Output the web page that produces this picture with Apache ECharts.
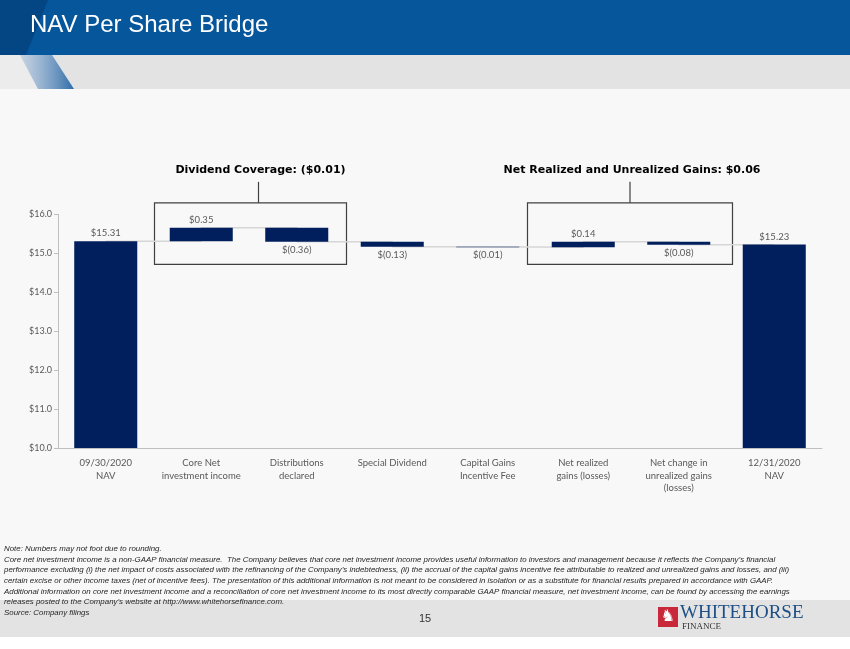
<!DOCTYPE html>
<html>
<head>
<meta charset="utf-8">
<script src="https://cdn.jsdelivr.net/npm/echarts@6.0.0/dist/echarts.min.js"></script>
<style>
  html, body { margin: 0; padding: 0; background: #f8f8f8; }
  #container { width: 850px; height: 649px; }
</style>
</head>
<body>
<div id="container"></div>
<script>
// bridge data
var categories = ['09/30/2020\nNAV', 'Core Net\ninvestment income', 'Distributions\ndeclared', 'Special Dividend',
    'Capital Gains\nIncentive Fee', 'Net realized\ngains (losses)', 'Net change in\nunrealized gains\n(losses)', '12/31/2020\nNAV'];
var changes = [15.31, 0.35, -0.36, -0.13, -0.01, 0.14, -0.08, 15.23];
var isTotal = [true, false, false, false, false, false, false, true];
var yMin = 10, yMax = 16, yStep = 1;

// call-out boxes (first and last category they wrap)
var annoTitles = ['Dividend Coverage: ($0.01)', 'Net Realized and Unrealized Gains: $0.06'];
var annoRanges = [[1, 2], [5, 6]];

var notes = [
    'Note: Numbers may not foot due to rounding.',
    'Core net investment income is a non-GAAP financial measure.  The Company believes that core net investment income provides useful information to investors and management because it reflects the Company\u2019s financial',
    'performance excluding (i) the net impact of costs associated with the refinancing of the Company\u2019s indebtedness, (ii) the accrual of the capital gains incentive fee attributable to realized and unrealized gains and losses, and (iii)',
    'certain excise or other income taxes (net of incentive fees). The presentation of this additional information is not meant to be considered in isolation or as a substitute for financial results prepared in accordance with GAAP.',
    'Additional information on core net investment income and a reconciliation of core net investment income to its most directly comparable GAAP financial measure, net investment income, can be found by accessing the earnings',
    'releases posted to the Company\u2019s website at http://www.whitehorsefinance.com.',
    'Source: Company filings'
];

function money(v) {
    return v < 0 ? '$(' + Math.abs(v).toFixed(2) + ')' : '$' + v.toFixed(2);
}

// build stacked pieces + connector levels
var base = [], bars = [], levels = [];
var level = 0;
changes.forEach(function (c, i) {
    if (isTotal[i]) {
        base.push(0);
        bars.push({ value: c, label: { position: 'top' } });
        level = c;
    } else {
        var prev = level;
        level = Math.round((prev + c) * 10000) / 10000;
        base.push(Math.min(prev, level));
        bars.push({ value: Math.abs(c), label: { position: c < 0 ? 'bottom' : 'top' } });
    }
    levels.push(level);
});

var myChart = echarts.init(document.getElementById('container'));
var labelFont = 'Lato, "Open Sans", sans-serif';

var option = {
    backgroundColor: '#f8f8f8',
    animation: false,
    grid: { left: 58, right: 28, top: 214.5, bottom: 201 },
    xAxis: {
        type: 'category',
        data: categories,
        axisLine: { lineStyle: { color: '#bfbfbf', width: 1 } },
        axisTick: { show: false },
        axisLabel: {
            interval: 0,
            color: '#595959',
            fontFamily: labelFont,
            fontSize: 9.5,
            lineHeight: 12.5,
            margin: 9
        }
    },
    yAxis: {
        type: 'value',
        min: yMin,
        max: yMax,
        interval: yStep,
        splitLine: { show: false },
        axisLine: { show: true, lineStyle: { color: '#bfbfbf', width: 1 } },
        axisTick: { show: true, length: 4, lineStyle: { color: '#bfbfbf' } },
        axisLabel: {
            color: '#595959',
            fontFamily: labelFont,
            fontSize: 9,
            margin: 6,
            formatter: function (v) { return '$' + v.toFixed(1); }
        }
    },
    series: [
        {
            name: 'connector',
            type: 'line',
            data: levels,
            step: 'end',
            symbol: 'none',
            silent: true,
            z: 1,
            lineStyle: { color: '#d6d6d6', width: 1.5 }
        },
        {
            name: 'base',
            type: 'bar',
            stack: 'bridge',
            data: base,
            silent: true,
            z: 2,
            barCategoryGap: '34%',
            itemStyle: { color: 'transparent' }
        },
        {
            name: 'change',
            type: 'bar',
            stack: 'bridge',
            data: bars,
            z: 3,
            barCategoryGap: '34%',
            itemStyle: { color: '#001f5c' },
            label: {
                show: true,
                color: '#595959',
                fontFamily: labelFont,
                fontSize: 9.5,
                distance: 3,
                formatter: function (p) { return money(changes[p.dataIndex]); }
            }
        }
    ]
};

myChart.setOption(option);

// slide decoration + call-outs
var g = [];
g.push({ type: 'rect', shape: { x: 0, y: 0, width: 850, height: 55 }, style: { fill: '#06569b' }, silent: true });
g.push({ type: 'polygon', shape: { points: [[0, 0], [48, 0], [26, 55], [0, 55]] }, style: { fill: 'rgba(0,25,70,0.28)' }, silent: true });
g.push({ type: 'rect', shape: { x: 0, y: 55, width: 850, height: 34 }, style: { fill: '#e3e3e3' }, silent: true });
g.push({ type: 'polygon', shape: { points: [[0, 55], [20, 55], [38, 89], [0, 89]] }, style: { fill: '#ececec' }, silent: true });
g.push({
    type: 'polygon', shape: { points: [[20, 55], [52, 55], [74, 89], [38, 89]] }, silent: true,
    style: { fill: new echarts.graphic.LinearGradient(0, 0, 1, 0, [
        { offset: 0, color: 'rgba(180,200,225,0.6)' }, { offset: 1, color: '#2e6ca8' }]) }
});
g.push({
    type: 'text', left: 30, top: 13, silent: true,
    style: { text: 'NAV Per Share Bridge', fill: '#ffffff', font: '24px "Liberation Sans", Arial, sans-serif' }
});

// footer
g.push({ type: 'rect', shape: { x: 0, y: 600, width: 850, height: 37 }, style: { fill: '#e3e3e3' }, silent: true });
g.push({ type: 'rect', shape: { x: 0, y: 637, width: 850, height: 12 }, style: { fill: '#ffffff' }, silent: true });
notes.forEach(function (t, i) {
    g.push({
        type: 'text', x: 4, y: 545 + i * 10.6, scaleX: 0.985, silent: true,
        style: { text: t, fill: '#262626', font: 'italic 8px "Liberation Sans", Arial, sans-serif' }
    });
});
g.push({
    type: 'text', x: 425, y: 619, silent: true,
    style: { text: '15', fill: '#333333', font: '11px "Liberation Sans", Arial, sans-serif', align: 'center', verticalAlign: 'middle' }
});
g.push({ type: 'rect', shape: { x: 658, y: 607, width: 20, height: 20 }, style: { fill: '#c8283a' }, silent: true });
g.push({
    type: 'text', x: 668, y: 617, silent: true,
    style: { text: '\u265E', fill: '#ffffff', font: '16px "DejaVu Sans"', align: 'center', verticalAlign: 'middle' }
});
g.push({
    type: 'text', x: 680, y: 604, silent: true,
    style: { text: 'WHITEHORSE', fill: '#1d4f86', font: '19px "Liberation Serif", serif' }
});
g.push({
    type: 'text', x: 682, y: 622, silent: true,
    style: { text: 'FINANCE', fill: '#333333', font: '9px "Liberation Serif", serif' }
});

// call-out boxes from the axis scales
var c0 = myChart.convertToPixel({ xAxisIndex: 0, yAxisIndex: 0 }, [0, yMax]);
var c1 = myChart.convertToPixel({ xAxisIndex: 0, yAxisIndex: 0 }, [1, yMax]);
var band = c1[0] - c0[0];
var boxTop = myChart.convertToPixel({ yAxisIndex: 0 }, 16.3);
var boxBottom = myChart.convertToPixel({ yAxisIndex: 0 }, 14.72);
var pads = [[-1, 2, 8], [8, 6, 0]];
annoRanges.forEach(function (r, k) {
    var xa = myChart.convertToPixel({ xAxisIndex: 0 }, r[0]) - band / 2 - pads[k][0];
    var xb = myChart.convertToPixel({ xAxisIndex: 0 }, r[1]) + band / 2 + pads[k][1];
    var mid = (xa + xb) / 2 + pads[k][2];
    g.push({
        type: 'rect', silent: true,
        shape: { x: xa, y: boxTop, width: xb - xa, height: boxBottom - boxTop },
        style: { fill: 'none', stroke: '#404040', lineWidth: 1.2 }
    });
    g.push({
        type: 'line', silent: true,
        shape: { x1: mid, y1: boxTop - 21, x2: mid, y2: boxTop },
        style: { stroke: '#404040', lineWidth: 1.2 }
    });
    g.push({
        type: 'text', x: mid + 2, y: boxTop - 33, silent: true,
        style: { text: annoTitles[k], fill: '#000000', font: 'bold 11px "DejaVu Sans", Verdana, sans-serif', align: 'center', verticalAlign: 'middle' }
    });
});

myChart.setOption({ graphic: g });
</script>
</body>
</html>
